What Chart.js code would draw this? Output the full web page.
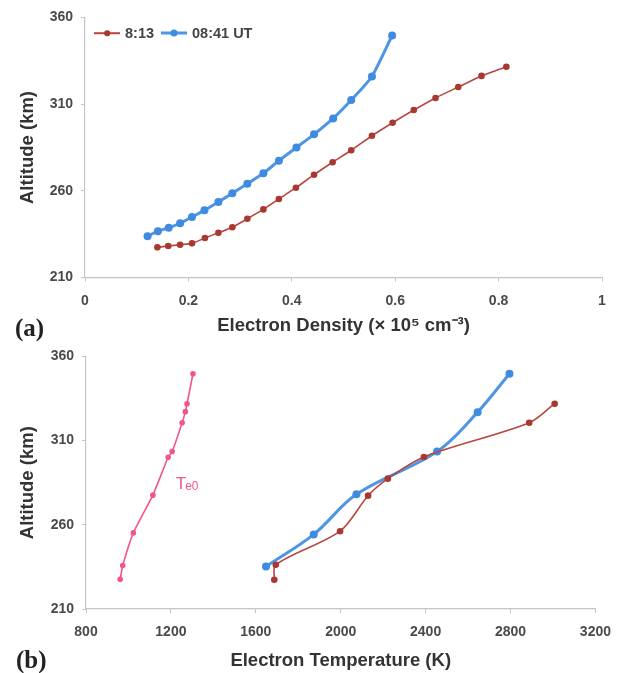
<!DOCTYPE html>
<html>
<head>
<meta charset="utf-8">
<script src="https://cdn.jsdelivr.net/npm/chart.js@4.4.1/dist/chart.umd.min.js"></script>
<style>
  body { margin: 0; background: #fff; }
  #wrap { position: relative; width: 622px; height: 673px; }
  .panel { position: absolute; left: 0; width: 622px; }
  #pa { top: 0; height: 340px; }
  #pb { top: 340px; height: 333px; }
  .tag { position: absolute; font-family: "Liberation Serif", "DejaVu Serif", serif; font-weight: bold; font-size: 25px; line-height: 25px; color: #222; }
  #legend_a { position: absolute; left: 94px; top: 25px; display: flex; align-items: center; font-family: "Liberation Sans", Arial, sans-serif; font-weight: bold; font-size: 14.5px; color: #444; }
  .legend-item { display: flex; align-items: center; margin-right: 7px; }
  .legend-swatch { position: relative; width: 26px; height: 10px; margin-right: 5px; }
  .legend-swatch .ln { position: absolute; left: 0; right: 0; top: 50%; transform: translateY(-50%); }
  .legend-swatch .dot { position: absolute; left: 50%; top: 50%; transform: translate(-50%, -50%); border-radius: 50%; }
</style>
</head>
<body>
<div id="wrap">
  <div class="panel" id="pa"><canvas id="chart_a"></canvas><div id="legend_a"></div></div>
  <div class="panel" id="pb"><canvas id="chart_b"></canvas></div>
  <div class="tag" style="left:15px; top:315px;">(a)</div>
  <div class="tag" style="left:16px; top:647px;">(b)</div>
</div>
<script>
// panel (a): electron density profiles
const DENS_813 = [0.140, 0.161, 0.184, 0.207, 0.232, 0.258, 0.285, 0.314, 0.345, 0.375, 0.408, 0.443, 0.479, 0.515, 0.555, 0.595, 0.636, 0.678, 0.722, 0.767, 0.815];
const ALT_DENS_813 = [227.4, 228.2, 228.9, 229.7, 232.8, 235.8, 239.0, 243.9, 249.3, 255.3, 261.8, 269.3, 276.5, 283.4, 291.8, 299.3, 306.6, 313.6, 319.9, 326.3, 331.6];
const DENS_841 = [0.121, 0.141, 0.162, 0.184, 0.207, 0.231, 0.258, 0.285, 0.314, 0.345, 0.375, 0.409, 0.443, 0.480, 0.515, 0.555, 0.594];
const ALT_DENS_841 = [233.8, 236.7, 238.7, 241.3, 244.9, 248.8, 253.6, 258.6, 264.1, 270.1, 277.4, 285.0, 292.6, 301.8, 312.4, 326.0, 349.6];

// panel (b): electron temperature profiles
const TEMP_813 = [1687, 1694, 1997, 2129, 2222, 2392, 2888, 3008];
const ALT_TEMP_813 = [227.4, 236.3, 256.2, 277.3, 287.4, 300.3, 320.6, 331.9];
const TEMP_841 = [1648, 1873, 2074, 2454, 2645, 2795];
const ALT_TEMP_841 = [235.2, 254.3, 278.1, 303.5, 326.9, 349.7];
const TEMP_TE0 = [961, 973, 1023, 1115, 1187, 1206, 1253, 1268, 1276, 1304];
const ALT_TE0 = [227.6, 235.8, 255.2, 277.6, 300.1, 303.5, 320.6, 327.2, 331.9, 349.7];

const SERIES_LABELS = ["8:13", "08:41 UT"];
const TE0_LABEL_POS = { x: 1223, y: 281.4 };

const FONT = '"Liberation Sans", Arial, sans-serif';
const RED = "#b9463f";
const RED_PT = "#a83830";
const BLUE = "#4d95e6";
const BLUE_PT = "#3f8be0";
const PINK = "#f2558d";
const AXIS = "#c4c4cc";

const SERIES_STYLE = [
  { color: RED, pt: RED_PT, width: 1.6, radius: 3.3 },
  { color: BLUE, pt: BLUE_PT, width: 3, radius: 4 },
];

function pts(xs, ys) {
  return xs.map((x, i) => ({ x: x, y: ys[i] }));
}

function buildLegend() {
  const legendEl = document.getElementById("legend_a");
  legendEl.innerHTML = "";
  SERIES_LABELS.forEach((label, i) => {
    const st = SERIES_STYLE[i];
    const item = document.createElement("div");
    item.className = "legend-item";
    const swatch = document.createElement("span");
    swatch.className = "legend-swatch";
    const ln = document.createElement("span");
    ln.className = "ln";
    ln.style.height = st.width + "px";
    ln.style.background = st.color;
    const dot = document.createElement("span");
    dot.className = "dot";
    dot.style.width = dot.style.height = (st.radius * 2 - 1) + "px";
    dot.style.background = st.pt;
    swatch.appendChild(ln);
    swatch.appendChild(dot);
    const text = document.createElement("span");
    text.textContent = label;
    item.appendChild(swatch);
    item.appendChild(text);
    legendEl.appendChild(item);
  });
}

function axisX(min, max, step, title, xHeight, titlePadBottom, fmt) {
  return {
    type: "linear", min: min, max: max,
    afterFit(s) { s.height = xHeight; },
    border: { color: AXIS, width: 1.2 },
    grid: { drawOnChartArea: false, drawTicks: true, tickLength: 4, color: AXIS },
    ticks: { stepSize: step, padding: 11, color: "#4a4a4a", font: { family: FONT, size: 14, weight: "bold" }, callback: fmt },
    title: { display: true, text: title, color: "#333", font: { family: FONT, size: 18.5, weight: "bold" }, padding: { top: 0, bottom: titlePadBottom } },
  };
}

function axisY(width) {
  return {
    type: "linear", min: 210, max: 360,
    afterFit(s) { s.width = width; },
    border: { color: AXIS, width: 1.2 },
    grid: { drawOnChartArea: false, drawTicks: true, tickLength: 4, color: AXIS },
    ticks: { stepSize: 50, padding: 8, color: "#4a4a4a", font: { family: FONT, size: 14, weight: "bold" } },
    title: { display: true, text: "Altitude (km)", color: "#333", font: { family: FONT, size: 18.5, weight: "bold" }, padding: { top: 17, bottom: 0 } },
  };
}

function lineSet(label, data, st, tension) {
  return {
    label: label,
    data: data,
    showLine: true,
    borderColor: st.color,
    backgroundColor: st.pt,
    borderWidth: st.width,
    pointRadius: st.radius,
    pointBorderWidth: 0,
    pointBackgroundColor: st.pt,
    tension: tension,
  };
}

new Chart(document.getElementById("chart_a"), {
  type: "scatter",
  data: {
    datasets: [
      lineSet(SERIES_LABELS[0], pts(DENS_813, ALT_DENS_813), SERIES_STYLE[0], 0.2),
      lineSet(SERIES_LABELS[1], pts(DENS_841, ALT_DENS_841), SERIES_STYLE[1], 0.2),
    ],
  },
  options: {
    animation: false,
    responsive: true,
    maintainAspectRatio: false,
    devicePixelRatio: 1,
    layout: { padding: { top: 17.5, right: 20, bottom: 0, left: 0 } },
    scales: {
      x: axisX(0, 1, 0.2, "Electron Density (× 10⁵ cm⁻³)", 62.5, 3, v => String(Math.round(v * 10) / 10)),
      y: axisY(85),
    },
    plugins: {
      tooltip: { enabled: false },
      legend: { display: false },
    },
  },
});
buildLegend();

const te0Label = {
  id: "te0Label",
  afterDatasetsDraw(chart) {
    const ctx = chart.ctx;
    const x = chart.scales.x.getPixelForValue(TE0_LABEL_POS.x);
    const y = chart.scales.y.getPixelForValue(TE0_LABEL_POS.y);
    ctx.save();
    ctx.fillStyle = PINK;
    ctx.textBaseline = "alphabetic";
    ctx.font = "17px " + FONT;
    ctx.fillText("T", x, y);
    const w = ctx.measureText("T").width;
    ctx.font = "12px " + FONT;
    ctx.fillText("e0", x + w - 1, y + 1);
    ctx.restore();
  },
};

new Chart(document.getElementById("chart_b"), {
  type: "scatter",
  data: {
    datasets: [
      lineSet("Te0", pts(TEMP_TE0, ALT_TE0), { color: PINK, pt: PINK, width: 1.6, radius: 2.8 }, 0.15),
      lineSet(SERIES_LABELS[0], pts(TEMP_813, ALT_TEMP_813), SERIES_STYLE[0], 0.3),
      lineSet(SERIES_LABELS[1], pts(TEMP_841, ALT_TEMP_841), SERIES_STYLE[1], 0.35),
    ],
  },
  options: {
    animation: false,
    responsive: true,
    maintainAspectRatio: false,
    devicePixelRatio: 1,
    layout: { padding: { top: 12.7, right: 21, bottom: 0, left: 0 } },
    scales: {
      x: axisX(800, 3200, 400, "Electron Temperature (K)", 64, 1, v => String(v)),
      y: axisY(86),
    },
    plugins: {
      tooltip: { enabled: false },
      legend: { display: false },
    },
  },
  plugins: [te0Label],
});
</script>
</body>
</html>
